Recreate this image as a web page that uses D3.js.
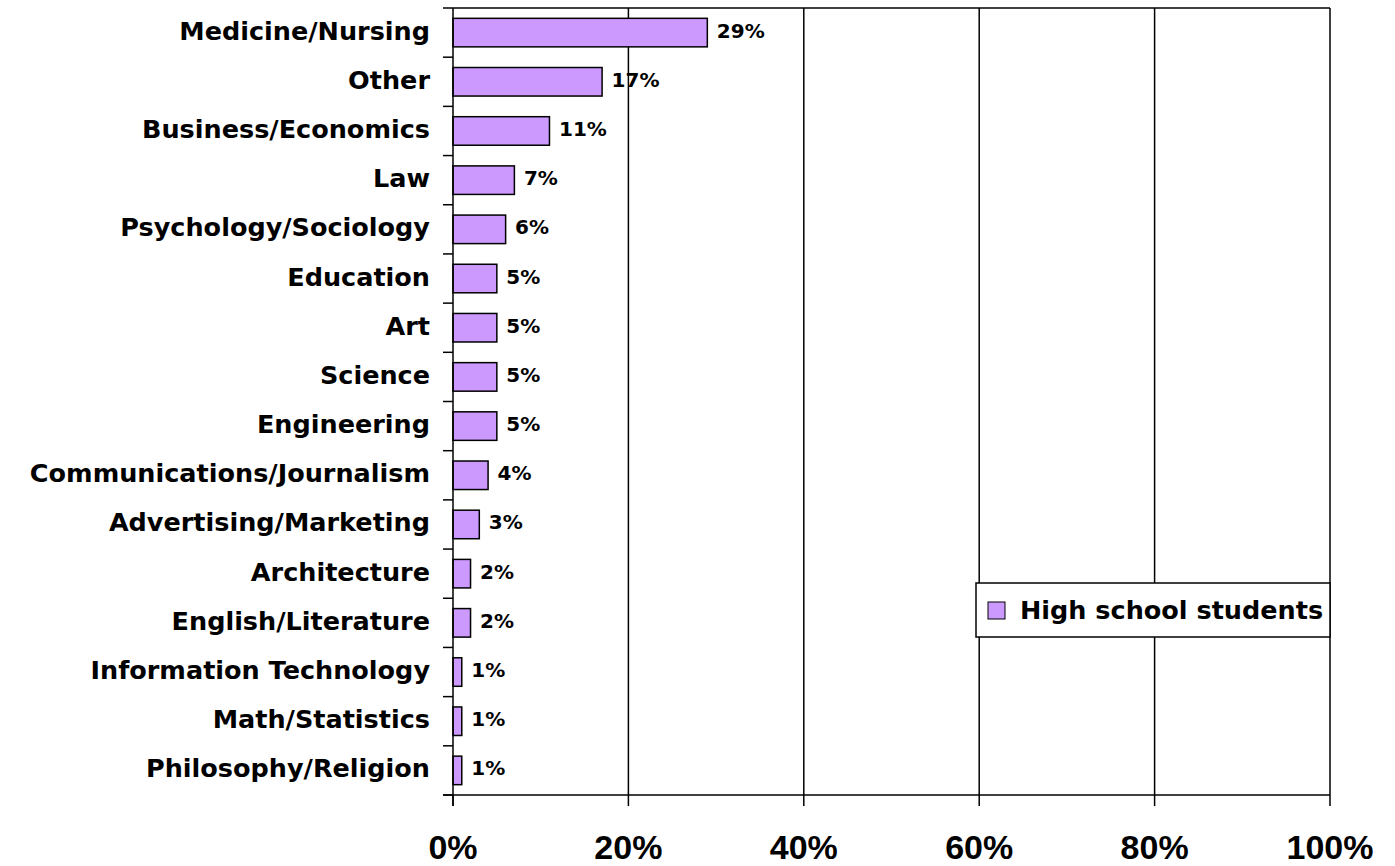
<!DOCTYPE html>
<html>
<head>
<meta charset="utf-8">
<script src="https://cdn.jsdelivr.net/npm/d3@7"></script>
<style>
  html, body { margin: 0; padding: 0; background: #ffffff; }
  svg { display: block; }
</style>
</head>
<body>
<svg id="chart" width="1395" height="866"></svg>
<script>
// Fields of study chosen by high school students (share of respondents, %)
const categories = [
  "Medicine/Nursing", "Other", "Business/Economics", "Law",
  "Psychology/Sociology", "Education", "Art", "Science", "Engineering",
  "Communications/Journalism", "Advertising/Marketing", "Architecture",
  "English/Literature", "Information Technology", "Math/Statistics",
  "Philosophy/Religion"
];
const values = [29, 17, 11, 7, 6, 5, 5, 5, 5, 4, 3, 2, 2, 1, 1, 1];
const xTicks = [0, 20, 40, 60, 80, 100];
const seriesName = "High school students";

const svg = d3.select("#chart");
const plot = { left: 453, right: 1330, top: 8, bottom: 795 };
const barFill = "#CC99FF";
const textFont = "'DejaVu Sans', Verdana, sans-serif";
const tickFont = "'Liberation Sans', Arial, sans-serif";

const x = d3.scaleLinear().domain([0, 100]).range([plot.left, plot.right]);
const y = d3.scaleBand().domain(categories)
  .range([plot.top, plot.bottom])
  .paddingInner(0.42).paddingOuter(0.21);

// vertical gridlines
svg.append("g").selectAll("line").data(xTicks.slice(1)).join("line")
  .attr("x1", d => x(d)).attr("x2", d => x(d))
  .attr("y1", plot.top).attr("y2", plot.bottom)
  .attr("stroke", "#000").attr("stroke-width", 1.5);

// top border of the plot area
svg.append("line")
  .attr("x1", plot.left).attr("x2", plot.right)
  .attr("y1", plot.top).attr("y2", plot.top)
  .attr("stroke", "#000").attr("stroke-width", 1.5);

// bars
svg.append("g").selectAll("rect").data(categories).join("rect")
  .attr("x", x(0))
  .attr("y", d => y(d))
  .attr("width", (d, i) => x(values[i]) - x(0))
  .attr("height", y.bandwidth())
  .attr("fill", barFill)
  .attr("stroke", "#000").attr("stroke-width", 1.5);

// value labels
svg.append("g").selectAll("text").data(categories).join("text")
  .attr("x", (d, i) => x(values[i]) + 9.5)
  .attr("y", d => y(d) + y.bandwidth() / 2 + 5)
  .attr("font-family", textFont).attr("font-weight", "bold")
  .attr("font-size", 20).attr("fill", "#000")
  .text((d, i) => values[i] + "%");

// category axis (ticks at band boundaries)
const boundaries = d3.range(categories.length + 1)
  .map(i => plot.top + i * (plot.bottom - plot.top) / categories.length);
svg.append("g").selectAll("line").data(boundaries).join("line")
  .attr("x1", plot.left - 10).attr("x2", plot.left)
  .attr("y1", d => d).attr("y2", d => d)
  .attr("stroke", "#000").attr("stroke-width", 1.5);
svg.append("line")
  .attr("x1", plot.left).attr("x2", plot.left)
  .attr("y1", plot.top).attr("y2", plot.bottom + 11)
  .attr("stroke", "#000").attr("stroke-width", 1.5);

svg.append("g").selectAll("text").data(categories).join("text")
  .attr("x", plot.left - 23)
  .attr("y", d => y(d) + y.bandwidth() / 2 + 7)
  .attr("text-anchor", "end")
  .attr("font-family", textFont).attr("font-weight", "bold")
  .attr("font-size", 25.5).attr("fill", "#000")
  .text(d => d);

// value axis
svg.append("line")
  .attr("x1", plot.left - 10).attr("x2", plot.right)
  .attr("y1", plot.bottom).attr("y2", plot.bottom)
  .attr("stroke", "#000").attr("stroke-width", 1.5);
svg.append("g").selectAll("line").data(xTicks).join("line")
  .attr("x1", d => x(d)).attr("x2", d => x(d))
  .attr("y1", plot.bottom).attr("y2", plot.bottom + 11)
  .attr("stroke", "#000").attr("stroke-width", 1.5);
svg.append("g").selectAll("text").data(xTicks).join("text")
  .attr("x", d => x(d))
  .attr("y", 859)
  .attr("text-anchor", "middle")
  .attr("font-family", tickFont).attr("font-weight", "bold")
  .attr("font-size", 34).attr("fill", "#000")
  .text(d => d + "%");

// legend
const legend = svg.append("g");
legend.append("rect")
  .attr("x", 976).attr("y", 583).attr("width", 354).attr("height", 54)
  .attr("fill", "#fff").attr("stroke", "#000").attr("stroke-width", 1.5);
legend.append("rect")
  .attr("x", 988).attr("y", 602).attr("width", 17).attr("height", 17)
  .attr("fill", barFill).attr("stroke", "#000").attr("stroke-width", 1);
legend.append("text")
  .attr("x", 1020).attr("y", 619)
  .attr("font-family", textFont).attr("font-weight", "bold")
  .attr("font-size", 25.5).attr("fill", "#000")
  .text(seriesName);
</script>
</body>
</html>
